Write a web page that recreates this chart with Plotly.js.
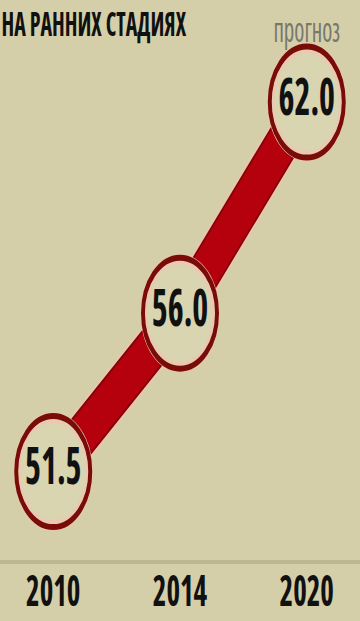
<!DOCTYPE html>
<html>
<head>
<meta charset="utf-8">
<script src="https://cdn.plot.ly/plotly-3.0.1.min.js"></script>
<style>
  html { margin: 0; padding: 0; background: #d5cfa9; overflow: hidden; }
  body { margin: 0; padding: 0; background: #d5cfa9; width: 360px; height: 621px; }
  #chart { width: 360px; height: 414px; transform: scaleY(1.5); transform-origin: 0 0; }
</style>
</head>
<body>
<div id="chart"></div>
<script>
// ---- data ----
const years = ['2010', '2014', '2020'];
const values = [51.5, 56.0, 62.0];
const valueLabels = ['51.5', '56.0', '62.0'];
const forecastYear = '2020';
const forecastValue = 62.0;
const forecastLabel = 'прогноз';
const titleText = 'НА РАННИХ СТАДИЯХ';

// pick the narrowest installed condensed face
function measure(family, stretch) {
  const s = document.createElement('span');
  s.textContent = '56.0';
  s.style.cssText = 'position:absolute;visibility:hidden;white-space:nowrap;font-weight:bold;font-size:100px;';
  s.style.fontFamily = family;
  s.style.fontStretch = stretch;
  document.body.appendChild(s);
  const w = s.getBoundingClientRect().width;
  document.body.removeChild(s);
  return w;
}
const candidates = [
  { family: 'Noto Sans', stretch: 'extra-condensed' },
  { family: 'Noto Sans', stretch: 'condensed' },
  { family: 'Open Sans', stretch: 'condensed' },
  { family: 'Liberation Sans Narrow', stretch: 'normal' },
  { family: 'DejaVu Sans Condensed', stretch: 'normal' }
];
let best = candidates[candidates.length - 1], bestW = Infinity;
candidates.forEach(c => { const w = measure(c.family, c.stretch); if (w < bestW) { bestW = w; best = c; } });
const NARROW = best.family;
const st = document.createElement('style');
st.textContent = '#chart svg text { font-stretch: ' + best.stretch + ' !important; }';
document.head.appendChild(st);

const BG = '#d5cfa9';

const traces = [
  { x: years, y: values, mode: 'lines', line: { color: '#f1c4b0', width: 34 }, hoverinfo: 'skip' },
  { x: years, y: values, mode: 'lines', line: { color: '#7e0606', width: 31 }, hoverinfo: 'skip' },
  { x: years, y: values, mode: 'lines', line: { color: '#b5000e', width: 28 }, hoverinfo: 'skip' },
  { x: years, y: values, mode: 'markers', marker: { size: 79, color: '#f1c4b0', line: { width: 0 } }, hoverinfo: 'skip' },
  { x: years, y: values, mode: 'markers', marker: { size: 74, color: '#d9d5b1', line: { color: '#7a0c08', width: 4 } }, hoverinfo: 'skip' },
  { x: years, y: values, mode: 'markers', marker: { size: 67, color: 'rgba(0,0,0,0)', line: { color: '#eec6b4', width: 2 } }, hoverinfo: 'skip' },
  { x: years, y: values, mode: 'text', text: valueLabels, textposition: 'middle center',
    textfont: { family: NARROW, size: 34, color: '#111111', weight: 'bold' }, hoverinfo: 'skip' }
];

const layout = {
  width: 360, height: 414,
  margin: { l: 0, r: 0, t: 0, b: 41 },
  paper_bgcolor: BG, plot_bgcolor: BG,
  showlegend: false,
  title: {
    text: titleText, x: 0.004, xanchor: 'left', xref: 'container',
    y: 0.98, yref: 'container', yanchor: 'top', pad: { t: 0, b: 0, l: 0, r: 0 },
    font: { family: NARROW, size: 22, color: '#111111', weight: 'bold' }
  },
  xaxis: {
    type: 'category', range: [-0.42, 2.42], fixedrange: true,
    showgrid: false, zeroline: false,
    showline: true, linecolor: '#bdb692', linewidth: 3,
    ticks: '', ticklabelstandoff: -7,
    tickfont: { family: NARROW, size: 29, color: '#111111', weight: 'bold' }
  },
  yaxis: {
    range: [49.0, 64.9], fixedrange: true,
    showgrid: false, zeroline: false, showline: false, showticklabels: false, ticks: ''
  },
  annotations: [
    { x: years.indexOf(forecastYear), y: forecastValue, xref: 'x', yref: 'y', text: forecastLabel,
      showarrow: false, yshift: 49, xanchor: 'center', yanchor: 'middle',
      font: { family: NARROW, size: 23, color: '#77776e' } }
  ]
};

Plotly.newPlot('chart', traces, layout, { staticPlot: true, displayModeBar: false });
</script>
</body>
</html>
